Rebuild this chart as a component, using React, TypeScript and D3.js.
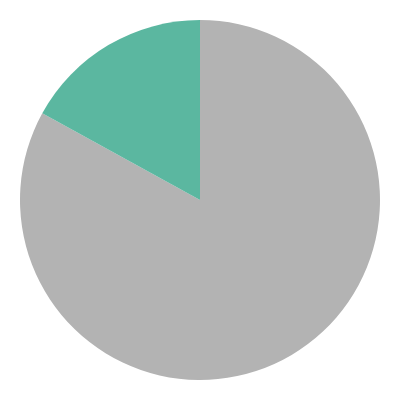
import React from 'react';
import * as d3 from 'd3';

const labels = ['Other', 'Share'];
const values = [83, 17];
const colors = ['#b3b3b3', '#5bb7a0'];

const App: React.FC = () => {
  const width = 400;
  const height = 400;
  const radius = 180;

  const pie = d3.pie<number>().sort(null).value(d => d);
  const arcs = pie(values);
  const arc = d3.arc<d3.PieArcDatum<number>>().innerRadius(0).outerRadius(radius);

  return (
    <svg
      width={width}
      height={height}
      style={{ position: 'absolute', left: 0, top: 0 }}
    >
      <g transform={`translate(${width / 2},${height / 2})`}>
        {arcs.map((a, i) => (
          <path key={labels[i]} d={arc(a) || ''} fill={colors[i]} />
        ))}
      </g>
    </svg>
  );
};

export default App;
